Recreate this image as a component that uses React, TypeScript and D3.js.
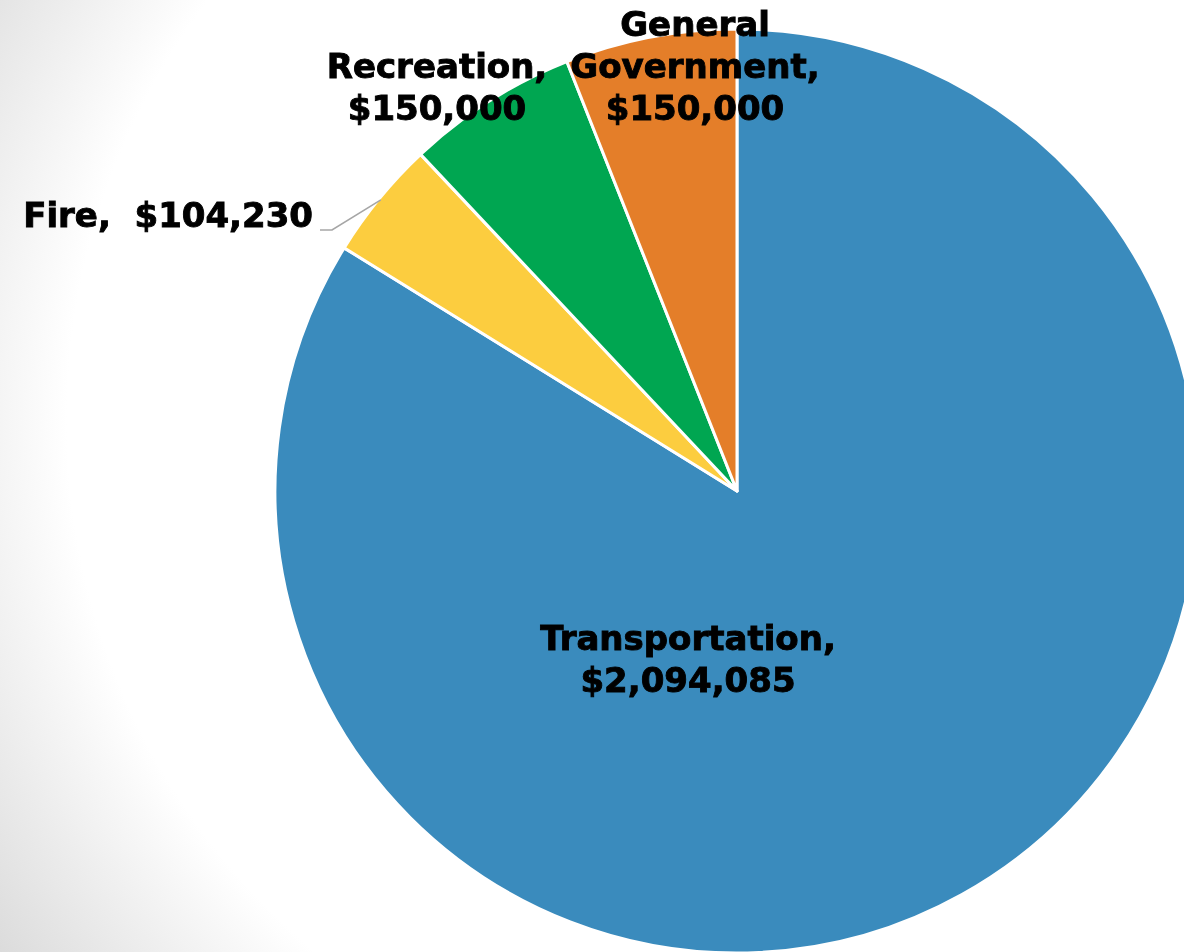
import React from "react";
import * as d3 from "d3";

const categories = ["Transportation", "Fire", "Recreation", "General Government"];
const values = [2094085, 104230, 150000, 150000];
const colors = ["#3a8bbd", "#fccd3f", "#00a651", "#e47e29"];
// label lines per category
const labelLines: string[][] = [
  ["Transportation,", "$2,094,085"],
  ["Fire,  $104,230"],
  ["Recreation,", "$150,000"],
  ["General", "Government,", "$150,000"],
];

const W = 1184;
const H = 952;
const CX = 737;
const CY = 491;
const R = 462;

export default function App() {
  const data = categories.map((c, i) => ({ name: c, value: values[i], color: colors[i] }));
  const pie = d3.pie<any>().value((d) => d.value).sort(null).startAngle(0).endAngle(2 * Math.PI);
  const arcs = pie(data);
  const arc = d3.arc<any>().innerRadius(0).outerRadius(R);

  // label positions (anchor points)
  const labelPos = [
    { x: 688 - CX, y: 650 - CY, anchor: "middle" },
    { x: 313 - CX, y: 227 - CY, anchor: "end" },
    { x: 437 - CX, y: 78 - CY, anchor: "middle" },
    { x: 695 - CX, y: 36 - CY, anchor: "middle" },
  ];
  const lineH = 42;

  // Fire leader line
  const fireArc = arcs[1];
  const mid = (fireArc.startAngle + fireArc.endAngle) / 2;
  const edge = [Math.sin(mid) * (R - 2), -Math.cos(mid) * (R - 2)];
  const leader = d3.line()([
    [320 - CX, 230 - CY],
    [332 - CX, 230 - CY],
    [edge[0], edge[1]],
  ]);

  return (
    <div style={{ position: "fixed", left: 0, top: 0 }}>
      <svg width={W} height={H} style={{ display: "block" }}>
        <defs>
          <radialGradient id="bg" gradientUnits="userSpaceOnUse" cx={760} cy={420} r={990}>
            <stop offset="0" stopColor="#ffffff" />
            <stop offset="0.7" stopColor="#ffffff" />
            <stop offset="1" stopColor="#d2d2d2" />
          </radialGradient>
        </defs>
        <rect x={0} y={0} width={W} height={H} fill="url(#bg)" />
        <g transform={`translate(${CX},${CY})`}>
          {arcs.map((a, i) => (
            <path key={i} d={arc(a) as string} fill={a.data.color} stroke="#ffffff" strokeWidth={3} strokeLinejoin="round" />
          ))}
          <path d={leader as string} fill="none" stroke="#a6a6a6" strokeWidth={1.6} />
          {labelLines.map((lines, i) => (
            <text
              key={i}
              x={labelPos[i].x}
              y={labelPos[i].y}
              textAnchor={labelPos[i].anchor as any}
              fontFamily="'DejaVu Sans', sans-serif"
              fontWeight={700}
              fontSize={34}
              fill="#000000"
              stroke="#000000"
              strokeWidth={0.9}
            >
              {lines.map((l, j) => (
                <tspan key={j} x={labelPos[i].x} dy={j === 0 ? 0 : lineH} style={{ whiteSpace: "pre" }}>
                  {l}
                </tspan>
              ))}
            </text>
          ))}
        </g>
      </svg>
    </div>
  );
}
